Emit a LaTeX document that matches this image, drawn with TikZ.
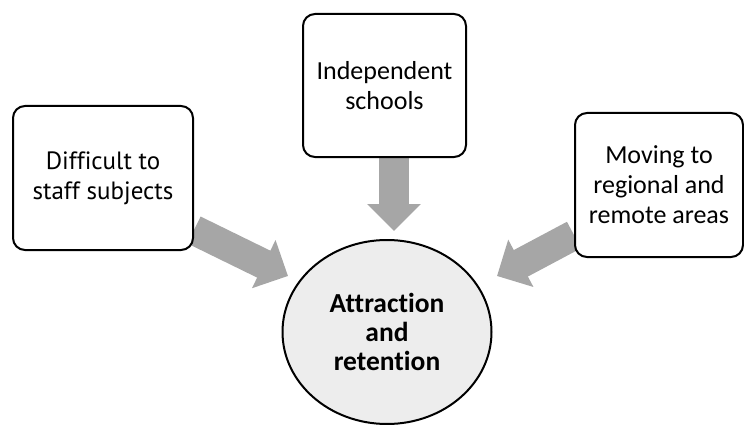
\documentclass[tikz,border=0pt]{standalone}
\usepackage{fontspec}
\setmainfont{Carlito}[Ligatures={NoCommon}]
\newfontfamily\leftfont{PT Sans}[Ligatures={NoCommon}]
\usetikzlibrary{arrows.meta,backgrounds,shapes.geometric}
\definecolor{arrowgray}{HTML}{A6A6A6}
\definecolor{ellgray}{HTML}{EDEDED}
\begin{document}
\begin{tikzpicture}[x=1pt,y=-1pt,
  box/.style={draw=black, line width=2pt, rounded corners=12pt, fill=white,
    align=center, inner sep=0pt, font=\fontsize{26pt}{30pt}\selectfont},
  blk/.style={draw=arrowgray, line width=30pt,
    -{Triangle[length=27pt,width=52pt,fill=arrowgray]}, color=arrowgray},
  hub/.style={ellipse, draw=black, line width=2pt, fill=ellgray, align=center,
    inner sep=0pt, font=\fontsize{27.5pt}{29pt}\selectfont\bfseries}]
\useasboundingbox (0,0) rectangle (744,425);
\node[box, minimum width=180pt, minimum height=144pt, font=\leftfont\fontsize{25pt}{30pt}\selectfont] (l) at (103,178) {Difficult to\\staff subjects};
\node[box, minimum width=163pt, minimum height=143pt] (t) at (384.5,85.5) {Independent\\schools};
\node[box, minimum width=168pt, minimum height=144pt] (r) at (659,185) {Moving to\\regional and\\remote areas};
\node[hub, minimum width=209pt, minimum height=184pt] (c) at (387,332) {Attraction\\and\\retention};
\coordinate (lt) at (288,276);
\coordinate (tt) at (394,231);
\coordinate (rt) at (497,276);
\begin{scope}[on background layer]
\draw[blk] ([yshift=-52pt]l.east) -- (lt);
\draw[blk] (t.south -| tt) -- (tt);
\draw[blk] ([yshift=-50pt]r.west) -- (rt);
\end{scope}
\end{tikzpicture}
\end{document}
